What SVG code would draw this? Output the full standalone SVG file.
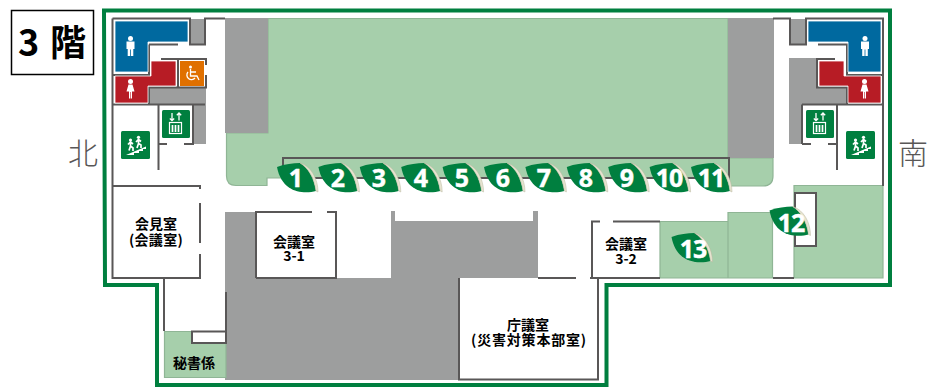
<svg xmlns="http://www.w3.org/2000/svg" xmlns:xlink="http://www.w3.org/1999/xlink" width="941" height="387" viewBox="0 0 941 387">
<style>
.w{fill:none;stroke:#595757;stroke-width:2}
.g{fill:#a6cfab;stroke:#8fb595;stroke-width:1.2}
.y{fill:#9d9e9e}
.r{font-family:"Noto Sans CJK JP","Noto Sans CJK SC",sans-serif;font-weight:700;font-size:14px;fill:#000;text-anchor:middle}
.n{font-family:"Open Sans","Noto Sans",sans-serif;font-weight:700;font-size:25px;fill:#fff;stroke:#fff;stroke-width:.4;text-anchor:middle}
.d{font-family:"Noto Sans CJK JP",sans-serif;font-size:30px;fill:#595757;text-anchor:middle;font-weight:300}
.i{fill:#007f3f}
.wi{fill:#fff}
.wl{fill:none;stroke:#fff;stroke-width:1.300}
</style>
<defs>
<g id="leaf">
<path d="M0,0C8,-3 16,-4 23,-4C31,1 37,10 39,24C28,27 5,27 0,0Z" fill="#007f3f"/>
<path d="M23,-4C34,-1 41,12 41,25L39,24C37,10 31,1 23,-4Z" fill="#e6e4d0" stroke="#b9b79f" stroke-width=".5"/>
</g>
<g id="man"><circle cx="0" cy="-8" r="2.500" class="wi"/><path class="wi" d="M-4,-5H4V2.500H2.800V9.500H.4V3H-.4V9.500H-2.800V2.500H-4Z"/></g>
<g id="woman"><circle cx="0" cy="-7.500" r="2.500" class="wi"/><path class="wi" d="M-2,-4.500H2L4,2.500H1.500V9.500H.3V3H-.3V9.500H-1.500V2.500H-4Z"/></g>
<g id="ev">
<rect width="28" height="28" rx="1.500" class="i"/>
<path class="wl" d="M10,3V10.500M7.800,8.500L10,10.500L12.200,8.500M17,10.500V3M14.800,5.200L17,3L19.200,5.200"/>
<rect x="7.500" y="12.500" width="12" height="11" fill="none" stroke="#fff" stroke-width="1.200"/>
<path stroke="#fff" stroke-width="1.700" d="M10.500,15V22M13.500,15V22M16.500,15V22"/>
</g>
<g id="st">
<rect width="29" height="28" rx="1.500" class="i"/>
<path class="wi" d="M5,24L25,15.500V18H22V20H18V22H13V24Z"/>
<circle cx="9.500" cy="9" r="1.600" class="wi"/><circle cx="17.500" cy="6.300" r="1.600" class="wi"/>
<path fill="none" stroke="#fff" stroke-width="1.700" d="M9.500,11V15L8,19.500M9.500,15L12,17V20M7,13.500L9.500,11L12,13M17.500,8.500V12.500L16,17M17.500,12.500L20,14V17M15,11L17.500,8.500L20,10.500"/>
</g>
</defs>
<rect width="941" height="387" fill="#fff"/>
<g id="floor-areas">
<path class="g" d="M268,18.500H728V158H773V176Q773,186 763,186H729V178H283V158H283V178H267V185.500H236Q226.500,185.500 226.500,176V133H268Z"/>
<path class="y" d="M225,18H268V133H225ZM728,18H774V158H728Z"/>
<path class="y" d="M149,88H206V144H193V104H149ZM789,58H817V88H847V104H802V144H789Z"/>
<path class="y" d="M190,19H205V44H190ZM790,19H806V44H790Z"/>
<path class="y" d="M225,212H256V278H391V211H395V221H533V211H538V278H459V380H225Z"/>
<path class="g" d="M164.500,331.500H192V343H226V377.500H164.500Z"/>
<path class="g" d="M660,221.500H728V278H660ZM728,212.500H772.500V278H728ZM794,185.500H883V278H794Z"/>
<path d="M104,10.500H890V285H606.500V385H157V285H105Z" fill="none" stroke="#007f3f" stroke-width="4"/>
</g>
<g id="walls">
<path class="w" d="M112.500,18.500H190V44.500H205V18.500H225M112.500,18.500V278H200V254M200,243V203M200,189V186H112.500M112.500,104.500H205M149,44.500H178M149,44.500V75H112.500M161,59H206V65M206,75V87.500H149V104.500M178,59V87.500M158.500,104.500V170M158.500,144H167M184,144H193V104.500"/>
<path class="w" d="M164,278V331M226,292V343H192V331.500H226"/>
<path class="w" d="M256,278V212H312M327,212H336V278H256"/>
<path class="w" d="M283,166V158H729V180M283,178H720"/>
<path class="w" d="M773,18.500H790V44.500H806V18.500H883V186M818,44.500H847V75H883M835,59H817V87.500H847V104.500M802,104.500H883M802,144V104.500M802,144H811M828,144H837M837,104.500V170"/>
<path class="w" d="M459,278V379.500H598V278M538,278H576M590,278H660M592,278V221.500H600M613,221.500H660M773,278H794"/>
<path fill="#fff" stroke="#595757" stroke-width="2" d="M795,193H816V246H795Z"/>
</g>
<g id="title"><rect x="11.500" y="10.500" width="82" height="64" fill="#fff" stroke="#000" stroke-width="1.500"/><text y="56" font-family="'Noto Sans CJK JP',sans-serif" font-weight="700" font-size="36"><tspan x="18">3</tspan><tspan x="50">階</tspan></text></g>
<g id="north"><text class="d" x="83" y="164">北</text></g>
<g id="south"><text class="d" x="913" y="164">南</text></g>
<g id="toilet-men-n"><path fill="#00699f" stroke="#fff" stroke-width=".8" d="M115,21H188V42H148V72H115Z"/><use href="#man" x="130.500" y="46.500"/></g>
<g id="toilet-women-n"><path fill="#b71c25" stroke="#fff" stroke-width=".8" d="M115,76H151V61H176V86H148V103H115Z"/><use href="#woman" x="130.500" y="89"/></g>
<g id="toilet-access"><rect x="180" y="61" width="24" height="25" fill="#e07000"/><circle cx="190.500" cy="67" r="1.500" class="wi"/><path class="wl" d="M190.500,69V76H197L199,80M190.500,72H196M188,72A4.500,4.500,0 1 0 195,78"/></g>
<g id="toilet-men-s"><path fill="#00699f" stroke="#fff" stroke-width=".8" d="M808,21H881V72H848V42H808Z"/><use href="#man" x="865" y="46.500"/></g>
<g id="toilet-women-s"><path fill="#b71c25" stroke="#fff" stroke-width=".8" d="M819,61H844V76H881V103H848V86H819Z"/><use href="#woman" x="864.500" y="89"/></g>
<g id="ev-n"><use href="#ev" x="162" y="110"/></g>
<g id="ev-s"><use href="#ev" x="806" y="110"/></g>
<g id="stairs-n"><use href="#st" x="121" y="131"/></g>
<g id="stairs-s"><use href="#st" x="846" y="131"/></g>
<g id="room-kaiken"><text class="r" x="156" y="229">会見室</text><text class="r" x="156" y="245" letter-spacing=".3">(会議室)</text></g>
<g id="room-3-1"><text class="r" x="294" y="247">会議室</text><text class="r" x="294" y="261">3-1</text></g>
<g id="room-3-2"><text class="r" x="626" y="249">会議室</text><text class="r" x="626" y="264">3-2</text></g>
<g id="room-hisho"><text class="r" x="194" y="368">秘書係</text></g>
<g id="room-chogi"><text class="r" x="528" y="330">庁議室</text><text class="r" x="529" y="345" letter-spacing=".8">(災害対策本部室)</text></g>
<g id="pin-1"><use href="#leaf" x="277" y="167"/><text class="n" x="296" y="187">1</text></g>
<g id="pin-2"><use href="#leaf" x="318.400" y="167"/><text class="n" x="338" y="187">2</text></g>
<g id="pin-3"><use href="#leaf" x="359.800" y="167"/><text class="n" x="379" y="187">3</text></g>
<g id="pin-4"><use href="#leaf" x="401.200" y="167"/><text class="n" x="421" y="187">4</text></g>
<g id="pin-5"><use href="#leaf" x="442.600" y="167"/><text class="n" x="462" y="187">5</text></g>
<g id="pin-6"><use href="#leaf" x="484" y="167"/><text class="n" x="503" y="187">6</text></g>
<g id="pin-7"><use href="#leaf" x="525.400" y="167"/><text class="n" x="544" y="187">7</text></g>
<g id="pin-8"><use href="#leaf" x="566.800" y="167"/><text class="n" x="586" y="187">8</text></g>
<g id="pin-9"><use href="#leaf" x="608.200" y="167"/><text class="n" x="627" y="187">9</text></g>
<g id="pin-10"><use href="#leaf" x="649.600" y="167"/><text class="n" x="669" y="187" letter-spacing="-1">10</text></g>
<g id="pin-11"><use href="#leaf" x="691" y="167"/><text class="n" x="711" y="187" letter-spacing="-1">11</text></g>
<g id="pin-12"><use href="#leaf" x="769.500" y="210.500"/><text class="n" x="791" y="232" letter-spacing="-1">12</text></g>
<g id="pin-13"><use href="#leaf" x="671.500" y="237"/><text class="n" x="693" y="258" letter-spacing="-1">13</text></g>
</svg>
